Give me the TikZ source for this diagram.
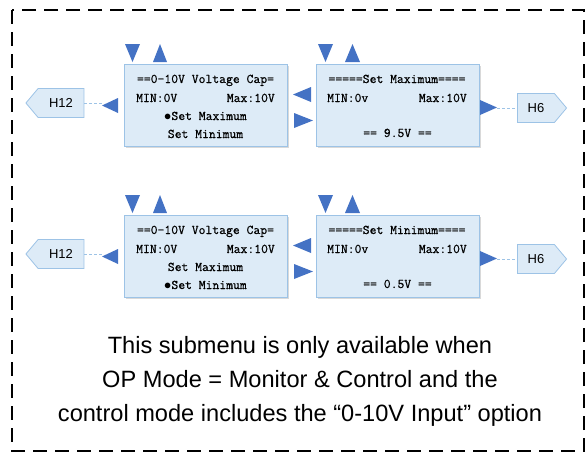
\documentclass[tikz,border=0pt]{standalone}
\usepackage{fontspec}
\setmainfont{Liberation Sans}
\newfontfamily\lcdfont[FakeBold=0.6]{Latin Modern Mono}
\usetikzlibrary{shapes.symbols,shadows}

\definecolor{menufill}{HTML}{DDEBF7}
\definecolor{menuline}{HTML}{9DC3E6}
\definecolor{keyblue}{HTML}{4472C4}

\tikzset{
    menubox/.style={draw=menuline, fill=menufill, line width=1pt, minimum width=163pt, minimum height=82pt, inner sep=0pt,
        drop shadow={opacity=0.3, shadow xshift=2pt, shadow yshift=-2pt}},
    lcd/.style={font=\fontsize{13.3}{16}\lcdfont, inner sep=0pt, anchor=base},
    tag/.style={draw=menuline, fill=menufill, line width=0.8pt, signal, signal pointer angle=100, minimum height=29pt, inner sep=0pt, font=\fontsize{13}{15}\selectfont},
    key/.style={fill=keyblue},
    link/.style={draw=menuline, line width=0.8pt, dash pattern=on 3pt off 2pt},
    note/.style={font=\fontsize{23.6}{28}\selectfont, inner sep=0pt, anchor=base}
}

\begin{document}
\begin{tikzpicture}[x=1pt, y=-1pt]
    \useasboundingbox (0,0) rectangle (587,453);
    \draw[line width=1.6pt, dash pattern=on 14pt off 8pt] (12,10) rectangle (584,451);

    \foreach \r/\dy in {A/0, B/151} {
        \node[menubox] (cap\r) at (205.5,{105+\dy}) {};
        \node[menubox] (set\r) at (397.5,{105+\dy}) {};

        \fill[key] (125,{44+\dy}) -- (140,{44+\dy}) -- (132.5,{62+\dy}) -- cycle;
        \fill[key] (153,{62+\dy}) -- (167,{62+\dy}) -- (160,{44+\dy}) -- cycle;
        \fill[key] (318,{44+\dy}) -- (333,{44+\dy}) -- (325.5,{62+\dy}) -- cycle;
        \fill[key] (345,{62+\dy}) -- (360,{62+\dy}) -- (352.5,{44+\dy}) -- cycle;

        \fill[key] (102,{105.5+\dy}) -- (118,{98+\dy}) -- (118,{113+\dy}) -- cycle;
        \fill[key] (293,{94.5+\dy}) -- (311,{87+\dy}) -- (311,{102+\dy}) -- cycle;
        \fill[key] (313,{120.5+\dy}) -- (294,{113+\dy}) -- (294,{128+\dy}) -- cycle;
        \fill[key] (497,{107.5+\dy}) -- (480,{100+\dy}) -- (480,{115+\dy}) -- cycle;

        \coordinate (in\r) at (104,{104+\dy});
        \coordinate (out\r) at (497,{108+\dy});
        \node[tag, signal to=west, minimum width=58pt] (h12\r) at (61,{103+\dy}) {H12};
        \node[tag, signal to=east, minimum width=49pt] (h6\r) at (536,{108+\dy}) {H6};
        \draw[link] (h12\r.east) -- (h12\r.east -| in\r);
        \draw[link] (out\r) -- (out\r -| h6\r.west);
    }

    \node[lcd] (capAtitle) at (205.5,83) {==0-10V Voltage Cap=};
    \node[lcd, anchor=base west] (capAmin) at (136,102) {MIN:0V};
    \node[lcd, anchor=base east] (capAmax) at (275,102) {Max:10V};
    \node[lcd] (capAhi) at (205.5,120) {$\bullet$Set Maximum};
    \node[lcd] (capAlo) at (205.5,138) {Set Minimum};

    \node[lcd] (setAtitle) at (397,83) {=====Set Maximum====};
    \node[lcd, anchor=base west] (setAmin) at (327,102) {MIN:0v};
    \node[lcd, anchor=base east] (setAmax) at (467,102) {Max:10V};
    \node[lcd] (setAval) at (397.5,137) {== 9.5V ==};

    \node[lcd] (capBtitle) at (205.5,234) {==0-10V Voltage Cap=};
    \node[lcd, anchor=base west] (capBmin) at (136,253) {MIN:0V};
    \node[lcd, anchor=base east] (capBmax) at (275,253) {Max:10V};
    \node[lcd] (capBhi) at (205.5,271) {Set Maximum};
    \node[lcd] (capBlo) at (205.5,289) {$\bullet$Set Minimum};

    \node[lcd] (setBtitle) at (397,234) {=====Set Minimum====};
    \node[lcd, anchor=base west] (setBmin) at (327,253) {MIN:0v};
    \node[lcd, anchor=base east] (setBmax) at (467,253) {Max:10V};
    \node[lcd] (setBval) at (397.5,288) {== 0.5V ==};

    \node[note] (note1) at (300,353) {This submenu is only available when};
    \node[note] (note2) at (300,387) {OP Mode = Monitor \& Control and the};
    \node[note] (note3) at (300,421) {control mode includes the “0-10V Input” option};
\end{tikzpicture}
\end{document}
